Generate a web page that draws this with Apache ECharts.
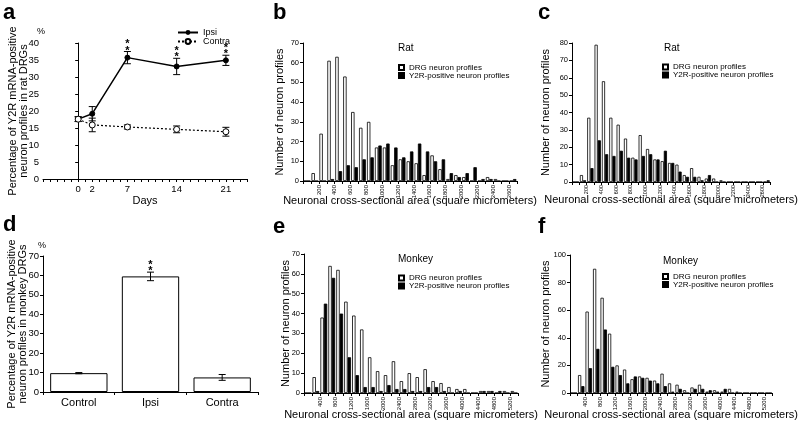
<!DOCTYPE html>
<html><head><meta charset="utf-8">
<script src="https://cdn.jsdelivr.net/npm/echarts@6/dist/echarts.min.js"></script>
<style>html,body{margin:0;padding:0;background:#fff}#c{width:800px;height:428px}</style>
</head><body><div id="c"></div>
<script>
// ---- Panel a: rat time course ----
const days = [0, 2, 7, 14, 21];
const dayTickLabels = [0, 2, 7, 14, 21];
const ipsiMean = [17.6, 19.2, 35.7, 33.1, 34.9];
const ipsiErr = [0.7, 2.1, 1.8, 2.4, 1.5];
const contraMean = [17.6, 15.9, 15.3, 14.6, 13.9];
const contraErr = [0.7, 2.0, 0.6, 1.0, 1.3];
const ipsiSignif = [false, false, true, true, true];

// ---- Panel d: monkey percentages ----
const groupsD = ['Control', 'Ipsi', 'Contra'];
const meanD = [9.7, 59.5, 7.5];
const errD = [0.3, 2.2, 1.5];
const signifD = [false, true, false];

// ---- Histograms ----
const ratBins = [0,100,200,300,400,500,600,700,800,900,1000,1100,1200,1300,1400,1500,1600,1700,1800,1900,2000,2100,2200,2300,2400,2500,2600];
const ratBinWidth = 100;
const ratDRG_b = [0,4,24,61,63,53,35,27,30,17,17,8,11,10,9,3,13,6,1,3,2,0,0,2,1,0,0];
const ratY2R_b = [0,0,0,1,5,8,7,11,12,18,19,17,12,15,19,15,10,11,4,2,4,7,1,1,0,0,1];
const ratDRG_c = [0,4,37,79,58,37,33,25,14,27,19,13,12,11,10,4,8,3,2,2,1,0,0,0,0,0,0];
const ratY2R_c = [0,1,8,24,16,15,18,14,13,15,16,13,18,11,6,3,3,1,4,0,0,0,0,0,0,0,1];

const monkeyBins = [0,200,400,600,800,1000,1200,1400,1600,1800,2000,2200,2400,2600,2800,3000,3200,3400,3600,3800,4000,4200,4400,4600,4800,5000,5200];
const monkeyBinWidth = 200;
const monkeyDRG_e = [0,8,38,64,62,46,39,32,18,11,9,16,6,10,8,12,6,5,3,2,2,0,1,1,0,1,1];
const monkeyY2R_e = [0,1,45,58,40,18,9,3,3,1,4,2,2,1,1,3,3,1,0,1,0,0,1,1,1,0,0];
const monkeyDRG_f = [0,13,59,90,69,43,20,17,10,12,11,9,14,7,6,2,4,6,1,2,1,3,1,0,0,0,0];
const monkeyY2R_f = [0,5,18,32,46,19,13,7,12,11,9,7,5,1,3,0,3,3,2,1,3,0,0,0,0,0,0];

const DRG = 'DRG neuron profiles';
const Y2R = 'Y2R-positive neuron profiles';
const FONT = 'Liberation Sans';

const chart = echarts.init(document.getElementById('c'), null, {renderer: 'canvas'});

function errRender(params, api) {
  const x = api.value(0), lo = api.value(1), hi = api.value(2);
  const pHi = api.coord([x, hi]), pLo = api.coord([x, lo]);
  const w = 3.5;
  const st = {stroke: '#000', lineWidth: 1};
  return {type: 'group', children: [
    {type: 'line', shape: {x1: pHi[0], y1: pHi[1], x2: pLo[0], y2: pLo[1]}, style: st},
    {type: 'line', shape: {x1: pHi[0]-w, y1: pHi[1], x2: pHi[0]+w, y2: pHi[1]}, style: st},
    {type: 'line', shape: {x1: pLo[0]-w, y1: pLo[1], x2: pLo[0]+w, y2: pLo[1]}, style: st}
  ]};
}
function starRender(params, api) {
  const p = api.coord([api.value(0), api.value(1)]);
  return {type: 'group', children: [
    {type: 'text', x: p[0], y: p[1] - 1, style: {text: '*', font: 'bold 11px ' + FONT, fill: '#000', align: 'center', verticalAlign: 'middle'}},
    {type: 'text', x: p[0], y: p[1] - 7.5, style: {text: '*', font: 'bold 11px ' + FONT, fill: '#000', align: 'center', verticalAlign: 'middle'}}
  ]};
}

const axisLine = {show: true, lineStyle: {color: '#000', width: 1}};
const axisTickOut = {show: true, inside: false, length: 3, lineStyle: {color: '#000'}};

const grids = [
  {left: 43, top: 43, width: 204, height: 136},
  {left: 303, top: 43, width: 214, height: 138},
  {left: 572, top: 43, width: 214, height: 139},
  {left: 43, top: 256, width: 215, height: 136},
  {left: 304, top: 254, width: 214, height: 139},
  {left: 570, top: 255, width: 216, height: 138}
];

function histX(gi, max, step, labelStep, nameGap, labelSize, labelMargin) {
  return {
    type: 'value', gridIndex: gi, min: 0, max: max, interval: step,
    axisLine: axisLine, axisTick: axisTickOut, splitLine: {show: false},
    axisLabel: {rotate: 90, fontSize: labelSize, fontFamily: FONT, color: '#000', margin: labelMargin,
      formatter: v => (v > 0 && v < max && v % labelStep === 0) ? String(v) : ''},
    name: 'Neuronal cross-sectional area (square micrometers)', nameLocation: 'middle', nameGap: nameGap,
    nameMoveOverlap: false,
    nameTextStyle: {fontSize: 11, fontFamily: FONT, color: '#000', verticalAlign: 'top'}
  };
}
function histY(gi, max, step, nameGap) {
  return {
    type: 'value', gridIndex: gi, min: 0, max: max, interval: step,
    axisLine: axisLine, axisTick: axisTickOut, splitLine: {show: false},
    axisLabel: {fontSize: 7.5, fontFamily: FONT, color: '#000', margin: 4},
    name: 'Number of neuron profiles', nameLocation: 'middle', nameGap: nameGap, nameRotate: 90,
    nameMoveOverlap: false,
    nameTextStyle: {fontSize: 11, fontFamily: FONT, color: '#000'}
  };
}
function histSeries(gi, bins, width, drg, y2r) {
  const common = {type: 'bar', xAxisIndex: gi, yAxisIndex: gi, barGap: '0%', barCategoryGap: '14%'};
  return [
    Object.assign({}, common, {name: DRG, data: bins.map((b, i) => [b + width / 2, drg[i]]),
      itemStyle: {color: '#fff', borderColor: '#000', borderWidth: 0.8}}),
    Object.assign({}, common, {name: Y2R, data: bins.map((b, i) => [b + width / 2, y2r[i]]),
      itemStyle: {color: '#000', borderColor: '#000', borderWidth: 0.8}})
  ];
}
function histLegend(left, top) {
  return {data: [DRG, Y2R], left: left, top: top, orient: 'vertical', icon: 'rect',
    itemWidth: 5, itemHeight: 5, itemGap: 0, padding: 0, selectedMode: false,
    textStyle: {fontSize: 8, lineHeight: 8, fontFamily: FONT, color: '#000', padding: [0, 0, 0, 0]}};
}

const option = {
  animation: false,
  backgroundColor: '#fff',
  grid: grids,
  legend: [
    {data: ['Ipsi', 'Contra'],
     left: 177, top: 28, orient: 'vertical', itemWidth: 20, itemHeight: 6, itemGap: 0, padding: 0, selectedMode: false,
     textStyle: {fontSize: 9, lineHeight: 7, fontFamily: FONT, color: '#000'}},
    histLegend(398, 63.5),
    histLegend(662, 63),
    histLegend(398, 274),
    histLegend(662, 272.5)
  ],
  xAxis: [
    {type: 'value', gridIndex: 0, min: -5, max: 24, interval: 1,
     axisLine: axisLine, axisTick: axisTickOut, splitLine: {show: false},
     axisLabel: {fontSize: 9.5, fontFamily: FONT, color: '#000', margin: 5,
       formatter: v => dayTickLabels.indexOf(v) >= 0 ? String(v) : ''},
     name: 'Days', nameLocation: 'middle', nameGap: 16, nameMoveOverlap: false,
     nameTextStyle: {fontSize: 11, fontFamily: FONT, color: '#000', verticalAlign: 'top'}},
    histX(1, 2700, ratBinWidth, 200, 14, 6, 4),
    histX(2, 2700, ratBinWidth, 200, 12, 5.5, 3),
    {type: 'category', gridIndex: 3, data: groupsD,
     axisLine: axisLine, axisTick: {show: true, length: 3, lineStyle: {color: '#000'}},
     axisLabel: {fontSize: 11, fontFamily: FONT, color: '#000', margin: 5}},
    histX(4, 5400, monkeyBinWidth, 400, 16, 6, 4),
    histX(5, 5400, monkeyBinWidth, 400, 16, 6, 4)
  ],
  yAxis: [
    {type: 'value', gridIndex: 0, min: 0, max: 40, interval: 5,
     axisLine: axisLine, axisTick: axisTickOut, splitLine: {show: false},
     axisLabel: {fontSize: 9.5, fontFamily: FONT, color: '#000', margin: 4},
     name: 'Percentage of Y2R mRNA-positive\nneuron profiles in rat DRGs', nameLocation: 'middle', nameGap: 13, nameRotate: 90,
     nameMoveOverlap: false,
     nameTextStyle: {fontSize: 11, lineHeight: 11.5, fontFamily: FONT, color: '#000'}},
    histY(1, 70, 10, 18),
    histY(2, 80, 10, 21),
    {type: 'value', gridIndex: 3, min: 0, max: 70, interval: 10,
     axisLine: axisLine, axisTick: axisTickOut, splitLine: {show: false},
     axisLabel: {fontSize: 9.5, fontFamily: FONT, color: '#000', margin: 4},
     name: 'Percentage of Y2R mRNA-positive\nneuron profiles in monkey DRGs', nameLocation: 'middle', nameGap: 14, nameRotate: 90,
     nameMoveOverlap: false,
     nameTextStyle: {fontSize: 11, lineHeight: 11.5, fontFamily: FONT, color: '#000'}},
    histY(4, 70, 10, 13),
    histY(5, 100, 20, 19)
  ],
  series: [
    {type: 'custom', xAxisIndex: 0, yAxisIndex: 0, renderItem: errRender, silent: true,
     data: days.map((d, i) => [d, contraMean[i] - contraErr[i], contraMean[i] + contraErr[i]]), z: 3},
    {type: 'custom', xAxisIndex: 0, yAxisIndex: 0, renderItem: errRender, silent: true,
     data: days.map((d, i) => [d, ipsiMean[i] - ipsiErr[i], ipsiMean[i] + ipsiErr[i]]), z: 3},
    {name: 'Ipsi', type: 'line', xAxisIndex: 0, yAxisIndex: 0,
     data: days.map((d, i) => [d, ipsiMean[i]]),
     lineStyle: {color: '#000', width: 1.5}, symbol: 'circle', symbolSize: 5,
     itemStyle: {color: '#000', borderColor: '#000'}, z: 4},
    {name: 'Contra', type: 'line', xAxisIndex: 0, yAxisIndex: 0,
     data: days.map((d, i) => [d, contraMean[i]]),
     lineStyle: {color: '#000', width: 1.2, type: [2, 2]}, symbol: 'circle', symbolSize: 6,
     itemStyle: {color: '#fff', borderColor: '#000', borderWidth: 1}, z: 5},
    {type: 'custom', xAxisIndex: 0, yAxisIndex: 0, renderItem: starRender, silent: true,
     data: days.map((d, i) => ipsiSignif[i] ? [d, ipsiMean[i] + ipsiErr[i]] : null).filter(v => v), z: 6},

    {type: 'bar', xAxisIndex: 3, yAxisIndex: 3, data: meanD, barCategoryGap: '20%',
     itemStyle: {color: '#fff', borderColor: '#000', borderWidth: 1}},
    {type: 'custom', xAxisIndex: 3, yAxisIndex: 3, renderItem: errRender, silent: true,
     data: groupsD.map((g, i) => [i, meanD[i] - errD[i], meanD[i] + errD[i]]), z: 3},
    {type: 'custom', xAxisIndex: 3, yAxisIndex: 3, renderItem: starRender, silent: true,
     data: groupsD.map((g, i) => signifD[i] ? [i, meanD[i] + errD[i]] : null).filter(v => v), z: 6}
  ]
  .concat(histSeries(1, ratBins, ratBinWidth, ratDRG_b, ratY2R_b))
  .concat(histSeries(2, ratBins, ratBinWidth, ratDRG_c, ratY2R_c))
  .concat(histSeries(4, monkeyBins, monkeyBinWidth, monkeyDRG_e, monkeyY2R_e))
  .concat(histSeries(5, monkeyBins, monkeyBinWidth, monkeyDRG_f, monkeyY2R_f)),
  graphic: [
    {type: 'text', left: 3, top: 2, style: {text: 'a', font: 'bold 22px "Liberation Sans Narrow", ' + FONT, fill: '#000'}},
    {type: 'text', left: 273, top: 2, style: {text: 'b', font: 'bold 22px "Liberation Sans Narrow", ' + FONT, fill: '#000'}},
    {type: 'text', left: 538, top: 2, style: {text: 'c', font: 'bold 22px "Liberation Sans Narrow", ' + FONT, fill: '#000'}},
    {type: 'text', left: 3, top: 214, style: {text: 'd', font: 'bold 22px "Liberation Sans Narrow", ' + FONT, fill: '#000'}},
    {type: 'text', left: 273, top: 216, style: {text: 'e', font: 'bold 22px "Liberation Sans Narrow", ' + FONT, fill: '#000'}},
    {type: 'text', left: 538, top: 216, style: {text: 'f', font: 'bold 22px "Liberation Sans Narrow", ' + FONT, fill: '#000'}},
    {type: 'text', left: 37, top: 27, style: {text: '%', font: '9px ' + FONT, fill: '#000'}},
    {type: 'text', left: 38, top: 241, style: {text: '%', font: '9px ' + FONT, fill: '#000'}},
    {type: 'text', left: 398, top: 43, style: {text: 'Rat', font: '10px ' + FONT, fill: '#000'}},
    {type: 'text', left: 664, top: 43, style: {text: 'Rat', font: '10px ' + FONT, fill: '#000'}},
    {type: 'text', left: 398, top: 254, style: {text: 'Monkey', font: '10px ' + FONT, fill: '#000'}},
    {type: 'text', left: 663, top: 256, style: {text: 'Monkey', font: '10px ' + FONT, fill: '#000'}}
  ]
};
chart.setOption(option);
</script></body></html>
